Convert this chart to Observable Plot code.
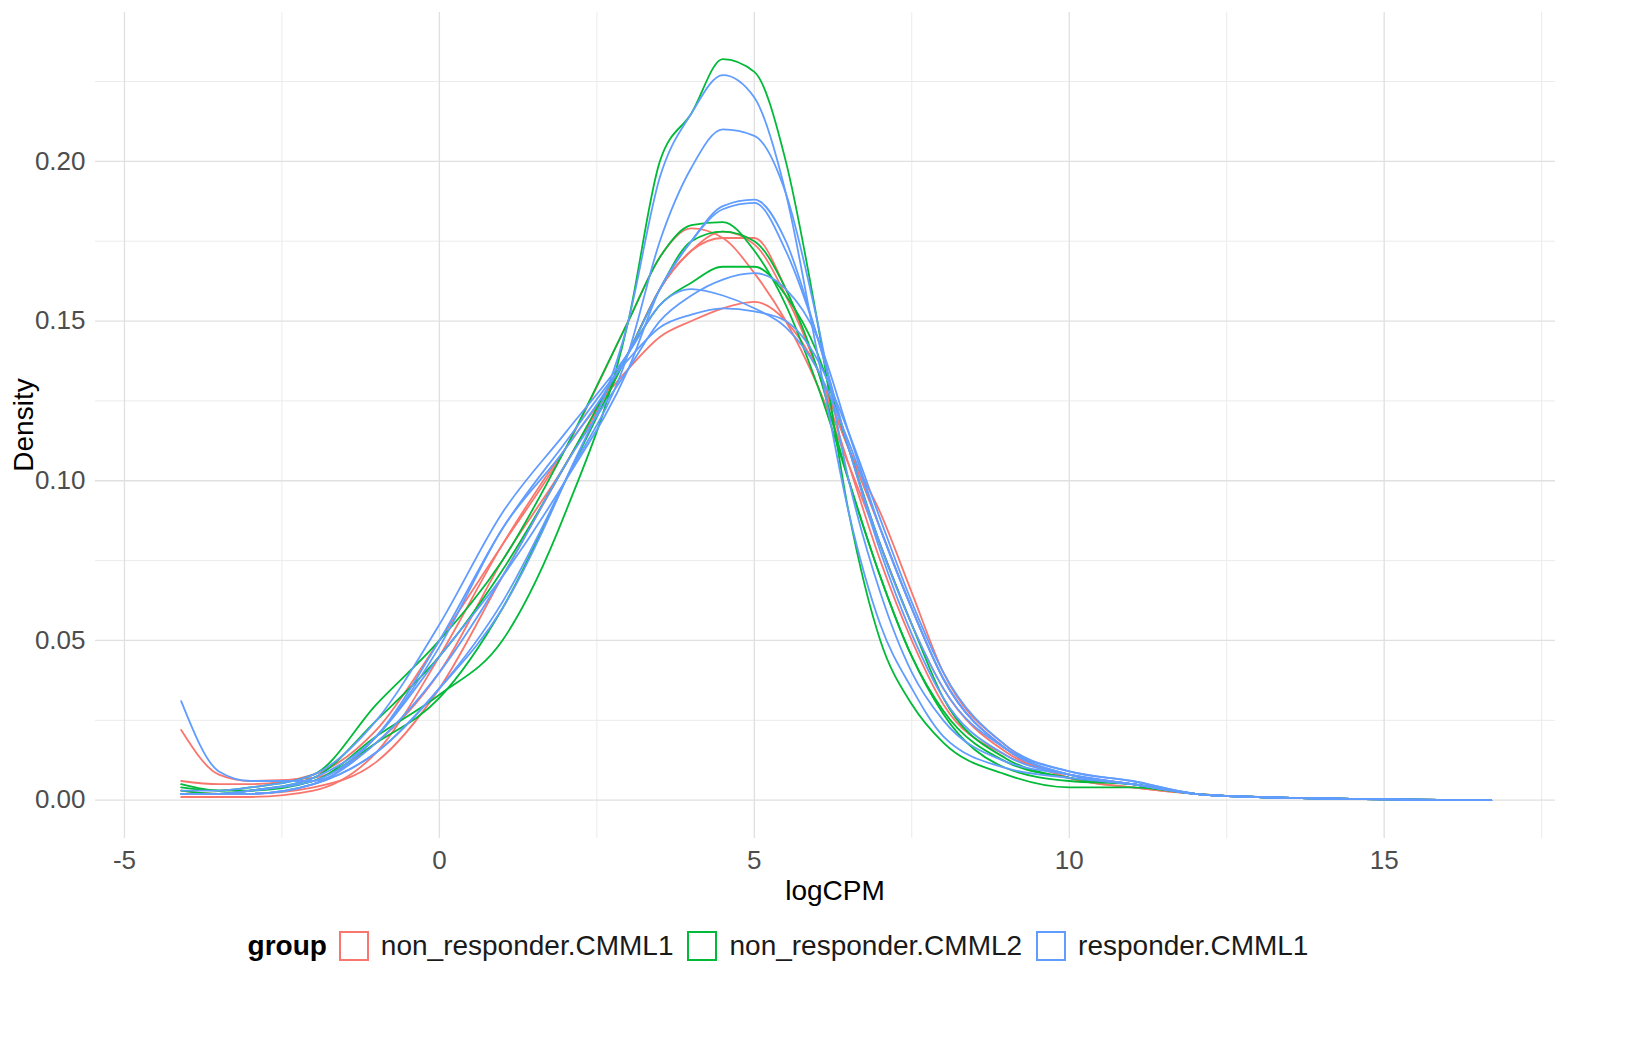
<!DOCTYPE html>
<html><head><meta charset="utf-8">
<meta name="viewport" content="width=1650">
<script src="https://cdn.jsdelivr.net/npm/d3@7"></script>
<script src="https://cdn.jsdelivr.net/npm/@observablehq/plot@0.6"></script>
<style>
html,body{margin:0;padding:0;background:#fff;font-family:"Liberation Sans",Arial,sans-serif;overflow:hidden;}
#wrap{width:1650px;height:1050px;overflow:hidden;}
#chart svg{max-width:none !important;}
#legend{width:1570px;display:flex;justify-content:center;align-items:center;font-size:28px;margin-top:10px;}
#legend b{margin-right:12px;}
.sw{width:30px;height:30px;border:2px solid;box-sizing:border-box;margin:0 12px 0 0;display:inline-block}
.it{display:flex;align-items:center;margin-right:14px;color:#1a1a1a}
</style></head><body>
<div id="wrap">
<div id="chart"></div>
<div id="legend"></div>
</div>
<script>
const xs = [-4.1,-3.5,-3,-2,-1,0,1,2,3,3.5,4,4.5,5,5.5,6,6.5,7,7.5,8,9,10,11,12,13,16.7];
const groups = ["non_responder.CMML1","non_responder.CMML2","responder.CMML1"];
const colors = ["#F8766D","#00BA38","#619CFF"];
const samples = [
 {g:0,y:[.006,.005,.005,.008,.022,.05,.08,.11,.15,.17,.179,.176,.165,.15,.13,.105,.08,.055,.035,.015,.008,.005,.002,.001,0]},
 {g:0,y:[.022,.008,.006,.007,.018,.04,.075,.105,.14,.16,.172,.178,.174,.158,.135,.105,.075,.05,.03,.014,.008,.005,.002,.001,0]},
 {g:0,y:[.003,.002,.002,.004,.012,.035,.07,.105,.14,.16,.172,.176,.176,.16,.135,.11,.085,.06,.038,.016,.007,.004,.002,.001,0]},
 {g:0,y:[.001,.001,.001,.003,.015,.045,.08,.11,.135,.145,.15,.154,.156,.15,.135,.11,.09,.065,.04,.017,.007,.004,.002,.001,0]},
 {g:1,y:[.004,.003,.003,.006,.02,.033,.05,.09,.15,.2,.215,.232,.228,.2,.15,.09,.05,.03,.018,.008,.004,.004,.002,.001,0]},
 {g:1,y:[.005,.003,.004,.008,.03,.05,.075,.11,.15,.17,.18,.181,.172,.155,.13,.1,.07,.045,.028,.012,.007,.005,.002,.001,0]},
 {g:1,y:[.002,.002,.003,.007,.025,.045,.072,.105,.14,.155,.162,.167,.167,.158,.14,.11,.08,.055,.032,.013,.007,.005,.002,.001,0]},
 {g:1,y:[.003,.002,.003,.006,.018,.032,.06,.1,.14,.16,.175,.178,.175,.16,.135,.1,.07,.045,.027,.01,.006,.005,.002,.001,0]},
 {g:2,y:[.002,.002,.002,.005,.015,.035,.06,.1,.15,.195,.215,.227,.22,.19,.14,.09,.055,.035,.02,.01,.007,.005,.002,.001,0]},
 {g:2,y:[.002,.002,.002,.005,.015,.035,.062,.1,.14,.175,.198,.21,.208,.19,.15,.1,.065,.04,.025,.012,.008,.005,.002,.001,0]},
 {g:2,y:[.031,.009,.006,.006,.02,.045,.07,.1,.135,.16,.175,.186,.188,.175,.145,.11,.08,.055,.035,.016,.009,.006,.002,.001,0]},
 {g:2,y:[.002,.002,.003,.007,.02,.048,.085,.11,.14,.16,.175,.185,.187,.172,.145,.11,.078,.052,.032,.014,.008,.005,.002,.001,0]},
 {g:2,y:[.002,.002,.002,.005,.018,.04,.07,.105,.135,.15,.158,.163,.165,.16,.145,.115,.085,.06,.038,.016,.008,.005,.002,.001,0]},
 {g:2,y:[.003,.003,.004,.008,.025,.055,.09,.115,.14,.155,.16,.158,.154,.148,.135,.112,.085,.06,.038,.016,.008,.005,.002,.001,0]},
 {g:2,y:[.002,.002,.003,.006,.02,.05,.085,.112,.138,.148,.152,.154,.153,.15,.138,.115,.088,.062,.04,.017,.009,.006,.002,.001,0]}
];
const xTicks = [-5,0,5,10,15];
const yTicks = [0,0.05,0.10,0.15,0.20];
const xMinor = [-2.5,2.5,7.5,12.5,17.5];
const yMinor = [0.025,0.075,0.125,0.175,0.225];

const rows = [];
samples.forEach((s,i)=>s.y.forEach((v,j)=>rows.push({x:xs[j],y:v,id:i,group:groups[s.g]})));

const chart = Plot.plot({
  width:1570,height:920,
  marginLeft:95,marginRight:15,marginTop:12,marginBottom:82,
  style:{fontFamily:"Liberation Sans, Arial, sans-serif",background:"#fff",maxWidth:"none"},
  x:{domain:[-5.46,17.72],label:null},
  y:{domain:[-0.012,0.2466],label:null},
  color:{domain:groups,range:colors},
  marks:[
    Plot.gridX(xMinor,{stroke:"#EBEBEB",strokeOpacity:1,strokeWidth:1}),
    Plot.gridY(yMinor,{stroke:"#EBEBEB",strokeOpacity:1,strokeWidth:1}),
    Plot.gridX(xTicks,{stroke:"#E0E0E0",strokeOpacity:1,strokeWidth:1.3}),
    Plot.gridY(yTicks,{stroke:"#E0E0E0",strokeOpacity:1,strokeWidth:1.3}),
    Plot.axisX({ticks:xTicks,tickSize:0,tickPadding:12,fontSize:26,color:"#4D4D4D",label:null,tickFormat:d=>String(d)}),
    Plot.axisY({ticks:yTicks,tickSize:0,tickPadding:10,fontSize:26,color:"#4D4D4D",label:null,tickFormat:d3.format(".2f")}),
    Plot.line(rows,{x:"x",y:"y",z:"id",stroke:"group",strokeWidth:1.8,curve:"monotone-x"})
  ]
});
chart.setAttribute("style", (chart.getAttribute("style")||"") + ";width:1570px;height:920px;max-width:none;");
const svg = d3.select(chart);
svg.append("text").attr("x",835).attr("y",900).attr("text-anchor","middle").attr("font-size",28).attr("fill","#000").text("logCPM");
svg.append("text").attr("transform","translate(33,425) rotate(-90)").attr("text-anchor","middle").attr("font-size",28).attr("fill","#000").text("Density");
document.getElementById("chart").appendChild(chart);

const lg = document.getElementById("legend");
lg.innerHTML = "<b>group</b>" + groups.map((g,i)=>`<span class="it"><span class="sw" style="border-color:${colors[i]}"></span>${g}</span>`).join("");
</script>
</body></html>
